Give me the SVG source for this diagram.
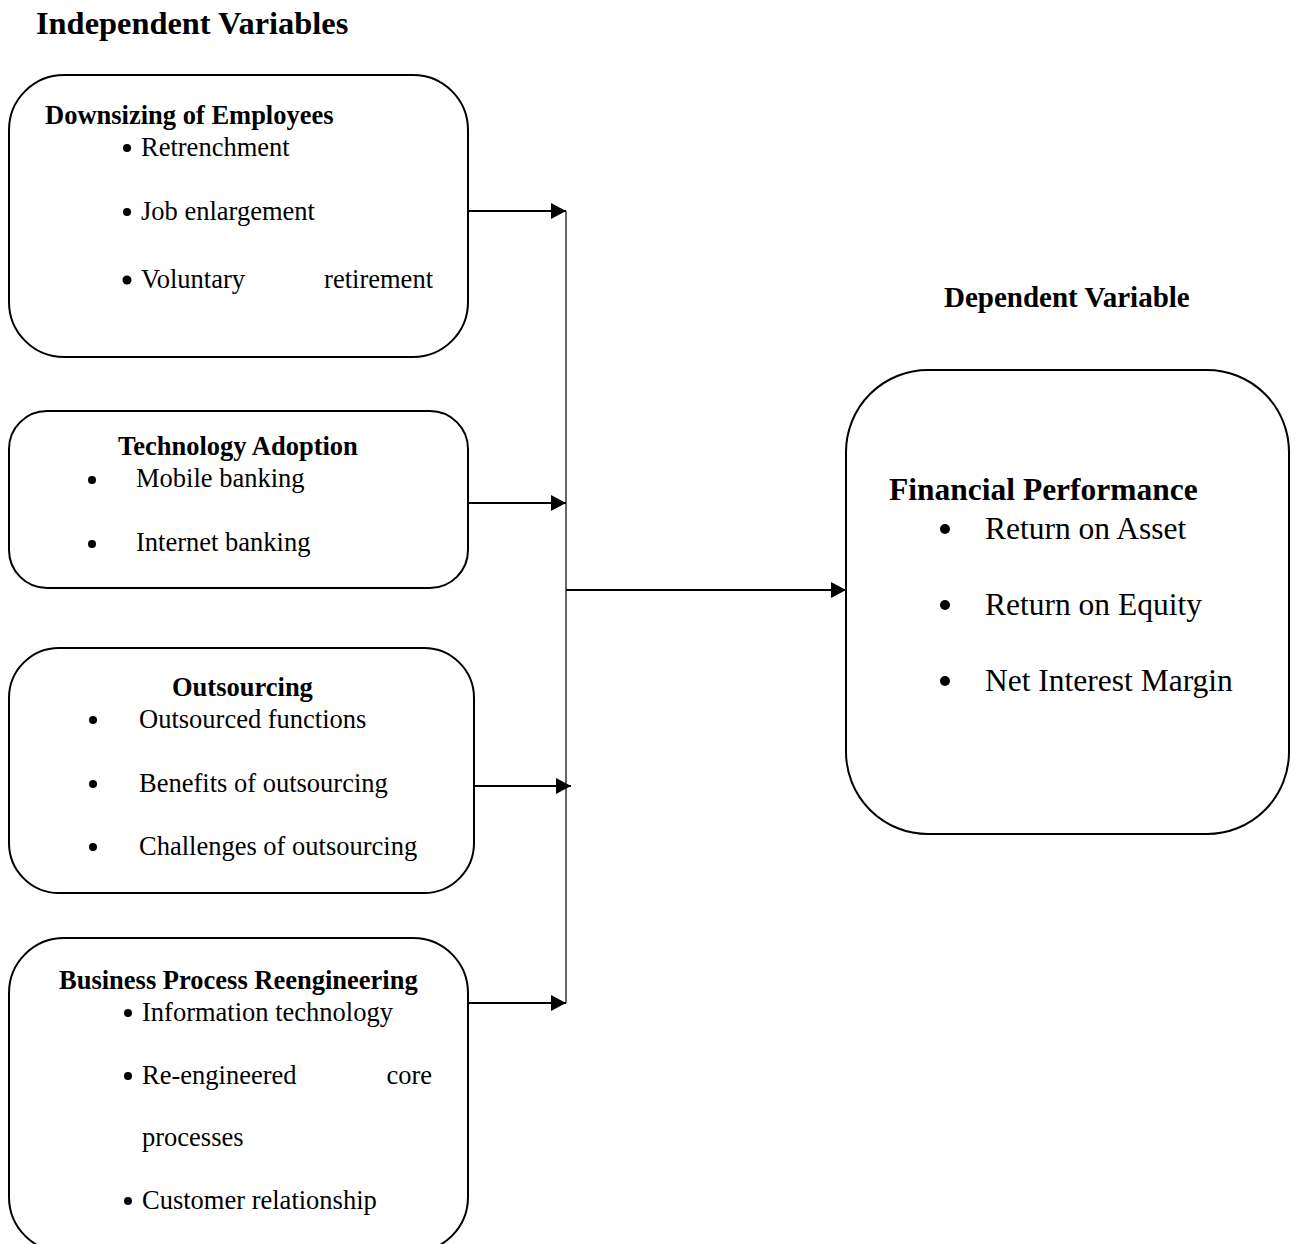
<svg xmlns="http://www.w3.org/2000/svg" width="1297" height="1244" viewBox="0 0 1297 1244">
<defs>
<marker id="ah" markerWidth="16" markerHeight="16" refX="15" refY="8" orient="auto" markerUnits="userSpaceOnUse">
<path d="M0,0 L15,8 L0,16 Z" fill="#000"/>
</marker>
<style>
.box{fill:#fff;stroke:#000;stroke-width:2}
.t{font-family:"Liberation Serif","Times New Roman",serif;fill:#000}
.h{font-weight:bold;font-size:26.5px}
.b{font-size:26.5px}
.big{font-weight:bold;font-size:29px}
.rb{font-size:31.5px}
.rh{font-weight:bold;font-size:31.5px}
.bl{fill:#000}
.conn{stroke:#000;stroke-width:2;fill:none}
.bus{stroke:#000;stroke-width:1.2;fill:none}
</style>
</defs>
<rect width="1297" height="1244" fill="#fff"/>
<text class="t big" x="36" y="34" style="font-size:32.4px">Independent Variables</text>
<text class="t big" x="944" y="307">Dependent Variable</text>

<g id="downsizing">
<rect class="box" x="9" y="75" width="459" height="282" rx="55" ry="55"/>
<text class="t h" x="45" y="124">Downsizing of Employees</text>
<circle class="bl" cx="127" cy="148" r="4"/>
<text class="t b" x="141" y="156">Retrenchment</text>
<circle class="bl" cx="127" cy="212" r="4"/>
<text class="t b" x="141" y="220">Job enlargement</text>
<circle class="bl" cx="127" cy="280" r="4.5"/>
<text class="t b" x="141" y="288">Voluntary</text>
<text class="t b" x="433" y="288" text-anchor="end">retirement</text>
</g>

<g id="technology">
<rect class="box" x="9" y="411" width="459" height="177" rx="38" ry="38"/>
<text class="t h" x="118" y="455">Technology Adoption</text>
<circle class="bl" cx="92" cy="480" r="4"/>
<text class="t b" x="136" y="487">Mobile banking</text>
<circle class="bl" cx="92" cy="544" r="4"/>
<text class="t b" x="136" y="551">Internet banking</text>
</g>

<g id="outsourcing">
<rect class="box" x="9" y="648" width="465" height="245" rx="50" ry="50"/>
<text class="t h" x="172" y="696">Outsourcing</text>
<circle class="bl" cx="93" cy="720" r="4"/>
<text class="t b" x="139" y="728">Outsourced functions</text>
<circle class="bl" cx="93" cy="784" r="4"/>
<text class="t b" x="139" y="792">Benefits of outsourcing</text>
<circle class="bl" cx="93" cy="847" r="4"/>
<text class="t b" x="139" y="855">Challenges of outsourcing</text>
</g>

<g id="bpr">
<rect class="box" x="9" y="938" width="459" height="314" rx="55" ry="55"/>
<text class="t h" x="59" y="989">Business Process Reengineering</text>
<circle class="bl" cx="128" cy="1013" r="4"/>
<text class="t b" x="142" y="1021">Information technology</text>
<circle class="bl" cx="128" cy="1076" r="4"/>
<text class="t b" x="142" y="1084">Re-engineered</text>
<text class="t b" x="432" y="1084" text-anchor="end">core</text>
<text class="t b" x="142" y="1146">processes</text>
<circle class="bl" cx="128" cy="1201" r="4"/>
<text class="t b" x="142" y="1209">Customer relationship</text>
</g>

<g id="financial">
<rect class="box" x="846" y="370" width="443" height="464" rx="82" ry="82"/>
<text class="t rh" x="889" y="500">Financial Performance</text>
<circle class="bl" cx="945" cy="529" r="5"/>
<text class="t rb" x="985" y="539">Return on Asset</text>
<circle class="bl" cx="945" cy="605" r="5"/>
<text class="t rb" x="985" y="615">Return on Equity</text>
<circle class="bl" cx="945" cy="681" r="5"/>
<text class="t rb" x="985" y="691">Net Interest Margin</text>
</g>

<g id="connectors">
<line class="bus" x1="566" y1="211" x2="566" y2="1003"/>
<line class="conn" x1="468" y1="211" x2="566" y2="211" marker-end="url(#ah)"/>
<line class="conn" x1="468" y1="503" x2="566" y2="503" marker-end="url(#ah)"/>
<line class="conn" x1="474" y1="786" x2="571" y2="786" marker-end="url(#ah)"/>
<line class="conn" x1="468" y1="1003" x2="566" y2="1003" marker-end="url(#ah)"/>
<line class="conn" x1="566" y1="590" x2="846" y2="590" marker-end="url(#ah)"/>
</g>
</svg>
